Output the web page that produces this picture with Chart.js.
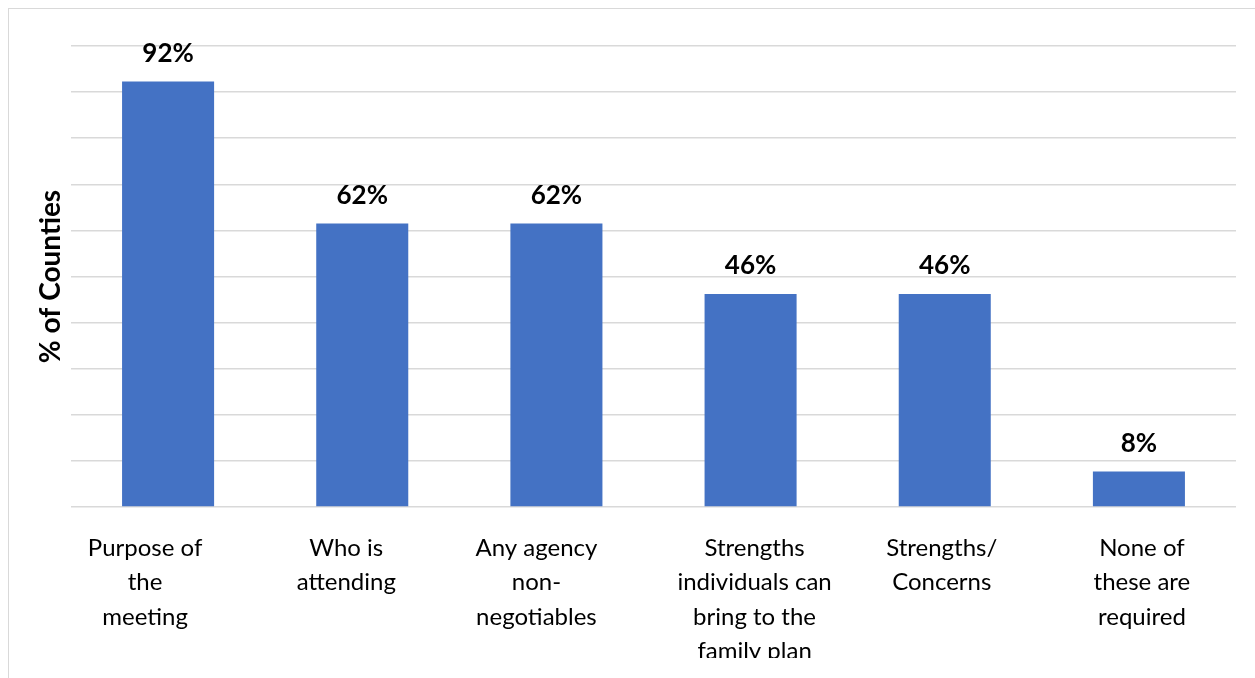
<!DOCTYPE html>
<html>
<head>
<meta charset="utf-8">
<script src="https://cdn.jsdelivr.net/npm/chart.js@4/dist/chart.umd.min.js"></script>
<style>
    html, body { margin: 0; padding: 0; background: #fff; overflow: hidden; }
    #frame {
        position: absolute; left: 8px; top: 8px; width: 2000px; height: 2000px;
        border-left: 1px solid #d9d9d9; border-top: 1px solid #d9d9d9;
    }
    #myChart { position: absolute; left: 0; top: 0; }
</style>
</head>
<body>
<div id="frame"></div>
<canvas id="myChart" width="1255" height="678"></canvas>
<script>

var categories = [
    ["Purpose of", "the", "meeting"],
    ["Who is", "attending"],
    ["Any agency", "non-", "negotiables"],
    ["Strengths", "individuals can", "bring to the", "family plan"],
    ["Strengths/", "Concerns"],
    ["None of", "these are", "required"]
];

var values = [92.3, 61.5, 61.5, 46.2, 46.2, 7.7];   // % of counties
var valueLabels = ["92%", "62%", "62%", "46%", "46%", "8%"];

var yAxisTitle = "% of Counties";

// the original's wrapped labels don't sit exactly under their bars
var labelShift = [-23, -16, -20, 4, -3, 3];

// bold % above each bar + the wrapped category labels
var barLabels = {
    id: 'barLabels',
    afterDraw(chart) {
        var ctx = chart.ctx;
        var meta = chart.getDatasetMeta(0);
        var xScale = chart.scales.x;
        ctx.save();
        ctx.fillStyle = "#000";
        ctx.textAlign = "center";
        ctx.textBaseline = "middle";

        ctx.font = "bold 26px Lato";
        meta.data.forEach(function (bar, i) {
            ctx.fillText(valueLabels[i], bar.x, bar.y - 28);
        });

        // original picture is cut just under the last label line
        ctx.beginPath();
        ctx.rect(0, 0, chart.width, 658);
        ctx.clip();

        ctx.font = "24px Lato";
        var lineH = 34.5;
        categories.forEach(function (lines, i) {
            var x = xScale.getPixelForValue(i) + labelShift[i];
            for (var j = 0; j < lines.length; j++) {
                ctx.fillText(lines[j], x, xScale.top + 24 + lineH / 2 + j * lineH);
            }
        });
        ctx.restore();
    }
};

function draw() {
    Chart.defaults.font.family = "Lato";
    Chart.defaults.color = "#000";

    const el = document.getElementById('myChart');

    const data = {
        labels: categories,
        datasets: [{
            data: values,
            backgroundColor: '#4472C4',
            barPercentage: 0.474,
            categoryPercentage: 1
        }]
    };

    const config = {
        type: 'bar',
        data: data,
        options: {
            responsive: false,
            animation: false,
            layout: { padding: { top: 46, right: 19, left: 0, bottom: 0 } },
            plugins: {
                legend: { display: false },
                tooltip: { enabled: false }
            },
            scales: {
                x: {
                    grid: { display: false, drawTicks: false },
                    border: { display: false },
                    ticks: { display: false },
                    afterFit: function (scale) { scale.height = 171; }
                },
                y: {
                    min: 0,
                    max: 100,
                    grid: { color: '#d9d9d9', lineWidth: 1.5, drawTicks: false },
                    border: { display: false },
                    ticks: { display: false, stepSize: 10 },
                    title: {
                        display: true,
                        text: yAxisTitle,
                        font: { size: 28, weight: 'bold', lineHeight: 1.2 },
                        color: '#000',
                        padding: { top: 34, bottom: 0 }
                    },
                    afterFit: function (scale) { scale.width = 71; }
                }
            }
        },
        plugins: [barLabels]
    };

    new Chart(el, config);
}

Promise.all([
    document.fonts.load("24px Lato"),
    document.fonts.load("bold 26px Lato")
]).then(draw, draw);
</script>
</body>
</html>
